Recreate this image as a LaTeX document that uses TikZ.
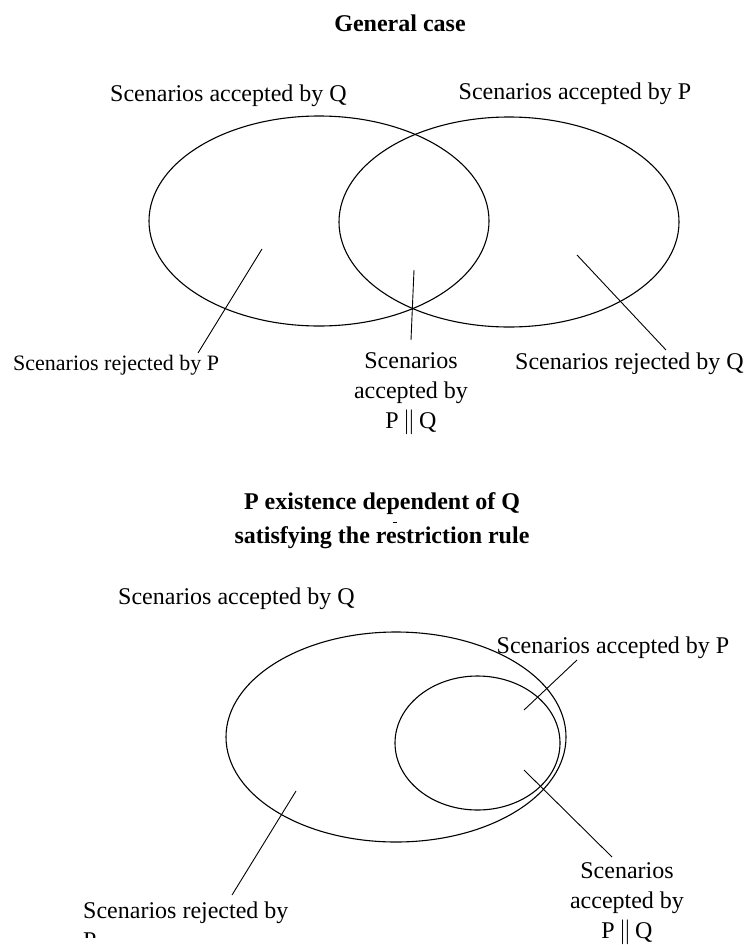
\documentclass[tikz,border=0pt]{standalone}
\usepackage{fontspec}
\setmainfont{Liberation Serif}
\begin{document}
\begin{tikzpicture}[x=1pt,y=-1pt,
  lbl/.style={inner sep=0pt, anchor=base, font=\fontsize{24}{30}\selectfont},
  lblsm/.style={inner sep=0pt, anchor=base west, font=\fontsize{22}{28}\selectfont},
  ttl/.style={inner sep=0pt, anchor=base, font=\fontsize{24}{34}\selectfont\bfseries},
  setline/.style={line width=1.1pt, black},
  lead/.style={line width=0.9pt, black}]
\useasboundingbox (0,0) rectangle (746,945);
\fill[white] (0,0) rectangle (746,945);

% ---------- General case ----------
\node[ttl] (t1) at (400,31) {General case};
\node[lbl] (aq1) at (228.5,101) {Scenarios accepted by Q};
\node[lbl] (ap1) at (575,99) {Scenarios accepted by P};

\coordinate (Qc) at (319,221);
\coordinate (Pc) at (509,222);
\draw[setline] (Qc) ellipse [x radius=170pt, y radius=105pt];
\draw[setline] (Pc) ellipse [x radius=170pt, y radius=105pt];

\node[lblsm] (rp1) at (13,370) {Scenarios rejected by P};
\node[lbl] (rq1) at (629.5,369) {Scenarios rejected by Q};
% base anchor of a multi-line node = baseline of its last line
\node[lbl, align=center, anchor=base] (pq1) at (411,428) {Scenarios\\accepted by\\P\,$\|$\,Q};

\coordinate (l1a) at (262,249);  \coordinate (l1b) at (198,353);
\coordinate (l2a) at (414,270);  \coordinate (l2b) at (411,340);
\coordinate (l3a) at (577,255);  \coordinate (l3b) at (666,350);
\draw[lead] (l1a) -- (l1b);
\draw[lead] (l2a) -- (l2b);
\draw[lead] (l3a) -- (l3b);

% ---------- P existence dependent of Q ----------
\node[ttl] (t2a) at (382,509) {P existence dependent of Q};
\node[ttl] (t2b) at (382,543) {satisfying the restriction rule};
\coordinate (tk1) at (393,522); \coordinate (tk2) at (397,522);
\draw[line width=0.6pt] (tk1) -- (tk2);

\node[lbl] (aq2) at (236.5,604) {Scenarios accepted by Q};
\node[lbl] (ap2) at (613,653) {Scenarios accepted by P};

\coordinate (Qb) at (396,737);
\coordinate (Pb) at (477.5,743);
\draw[setline] (Qb) ellipse [x radius=170pt, y radius=105pt];
\draw[setline] (Pb) ellipse [x radius=82.5pt, y radius=67pt];

% the label's second line is cut off in the reference, as by a text box edge
\begin{scope}
  \clip (0,0) rectangle (746,937);
  \node[lbl, align=left, anchor=base west] (rp2) at (83,948) {Scenarios rejected by\\P};
\end{scope}
\node[lbl, align=center, anchor=base] (pq2) at (627,938) {Scenarios\\accepted by\\P\,$\|$\,Q};

\coordinate (m1a) at (296,791);  \coordinate (m1b) at (232,895);
\coordinate (m2a) at (524,710);  \coordinate (m2b) at (577,660);
\coordinate (m3a) at (524,770);  \coordinate (m3b) at (612,857);
\draw[lead] (m1a) -- (m1b);
\draw[lead] (m2a) -- (m2b);
\draw[lead] (m3a) -- (m3b);
\end{tikzpicture}
\end{document}
